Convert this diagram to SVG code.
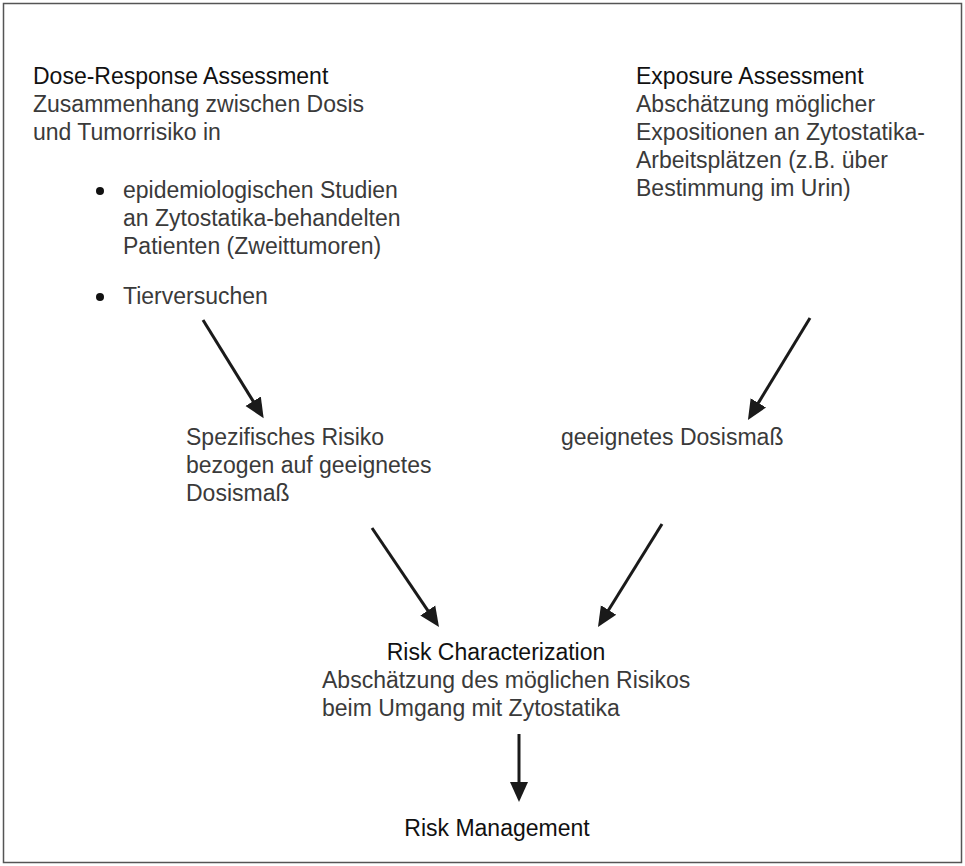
<svg xmlns="http://www.w3.org/2000/svg" width="965" height="866" viewBox="0 0 965 866">
<style>
.t{font-family:"Liberation Sans",Arial,sans-serif;font-size:23px;fill:#3a3a3a}
.h{font-family:"Liberation Sans",Arial,sans-serif;font-size:23px;fill:#111}
.c{stroke:#1a1a1a;stroke-width:3;fill:none}
</style>
<defs>
<marker id="ah" markerUnits="userSpaceOnUse" markerWidth="22" markerHeight="20" viewBox="0 -10 22 20" refX="2" refY="0" orient="auto">
<path d="M0,-9 L20,0 L0,9 z" fill="#1a1a1a"/>
</marker>
</defs>
<rect x="3.5" y="3.5" width="958" height="859" fill="#fff" stroke="#555" stroke-width="1.5"/>
<g id="dose-response">
<text class="h" x="33" y="84">Dose-Response Assessment</text>
<text class="t" x="33" y="112">Zusammenhang zwischen Dosis</text>
<text class="t" x="33" y="140">und Tumorrisiko in</text>
<circle cx="100" cy="191" r="4" fill="#111"/>
<text class="t" x="123" y="198">epidemiologischen Studien</text>
<text class="t" x="123" y="226">an Zytostatika-behandelten</text>
<text class="t" x="123" y="254">Patienten (Zweittumoren)</text>
<circle cx="100" cy="297" r="4" fill="#111"/>
<text class="t" x="123" y="304">Tierversuchen</text>
</g>
<g id="exposure">
<text class="h" x="636" y="84">Exposure Assessment</text>
<text class="t" x="636" y="112">Abschätzung möglicher</text>
<text class="t" x="636" y="140">Expositionen an Zytostatika-</text>
<text class="t" x="636" y="168">Arbeitsplätzen (z.B. über</text>
<text class="t" x="636" y="196">Bestimmung im Urin)</text>
</g>
<g id="specific-risk">
<text class="t" x="186" y="445">Spezifisches Risiko</text>
<text class="t" x="186" y="473">bezogen auf geeignetes</text>
<text class="t" x="186" y="501">Dosismaß</text>
</g>
<g id="dose-measure">
<text class="t" x="561" y="445">geeignetes Dosismaß</text>
</g>
<g id="risk-characterization">
<text class="h" x="496" y="660" text-anchor="middle">Risk Characterization</text>
<text class="t" x="322" y="688">Abschätzung des möglichen Risikos</text>
<text class="t" x="322" y="716">beim Umgang mit Zytostatika</text>
</g>
<g id="risk-management">
<text class="h" x="497" y="836" text-anchor="middle">Risk Management</text>
</g>
<g id="connectors">
<line class="c" x1="203" y1="320" x2="254.2" y2="402.9" marker-end="url(#ah)"/>
<line class="c" x1="810" y1="318" x2="757.3" y2="404.6" marker-end="url(#ah)"/>
<line class="c" x1="372" y1="528" x2="428.9" y2="612.1" marker-end="url(#ah)"/>
<line class="c" x1="662" y1="524" x2="607.5" y2="611.7" marker-end="url(#ah)"/>
<line class="c" x1="519" y1="734" x2="519" y2="784" marker-end="url(#ah)"/>
</g>
</svg>
